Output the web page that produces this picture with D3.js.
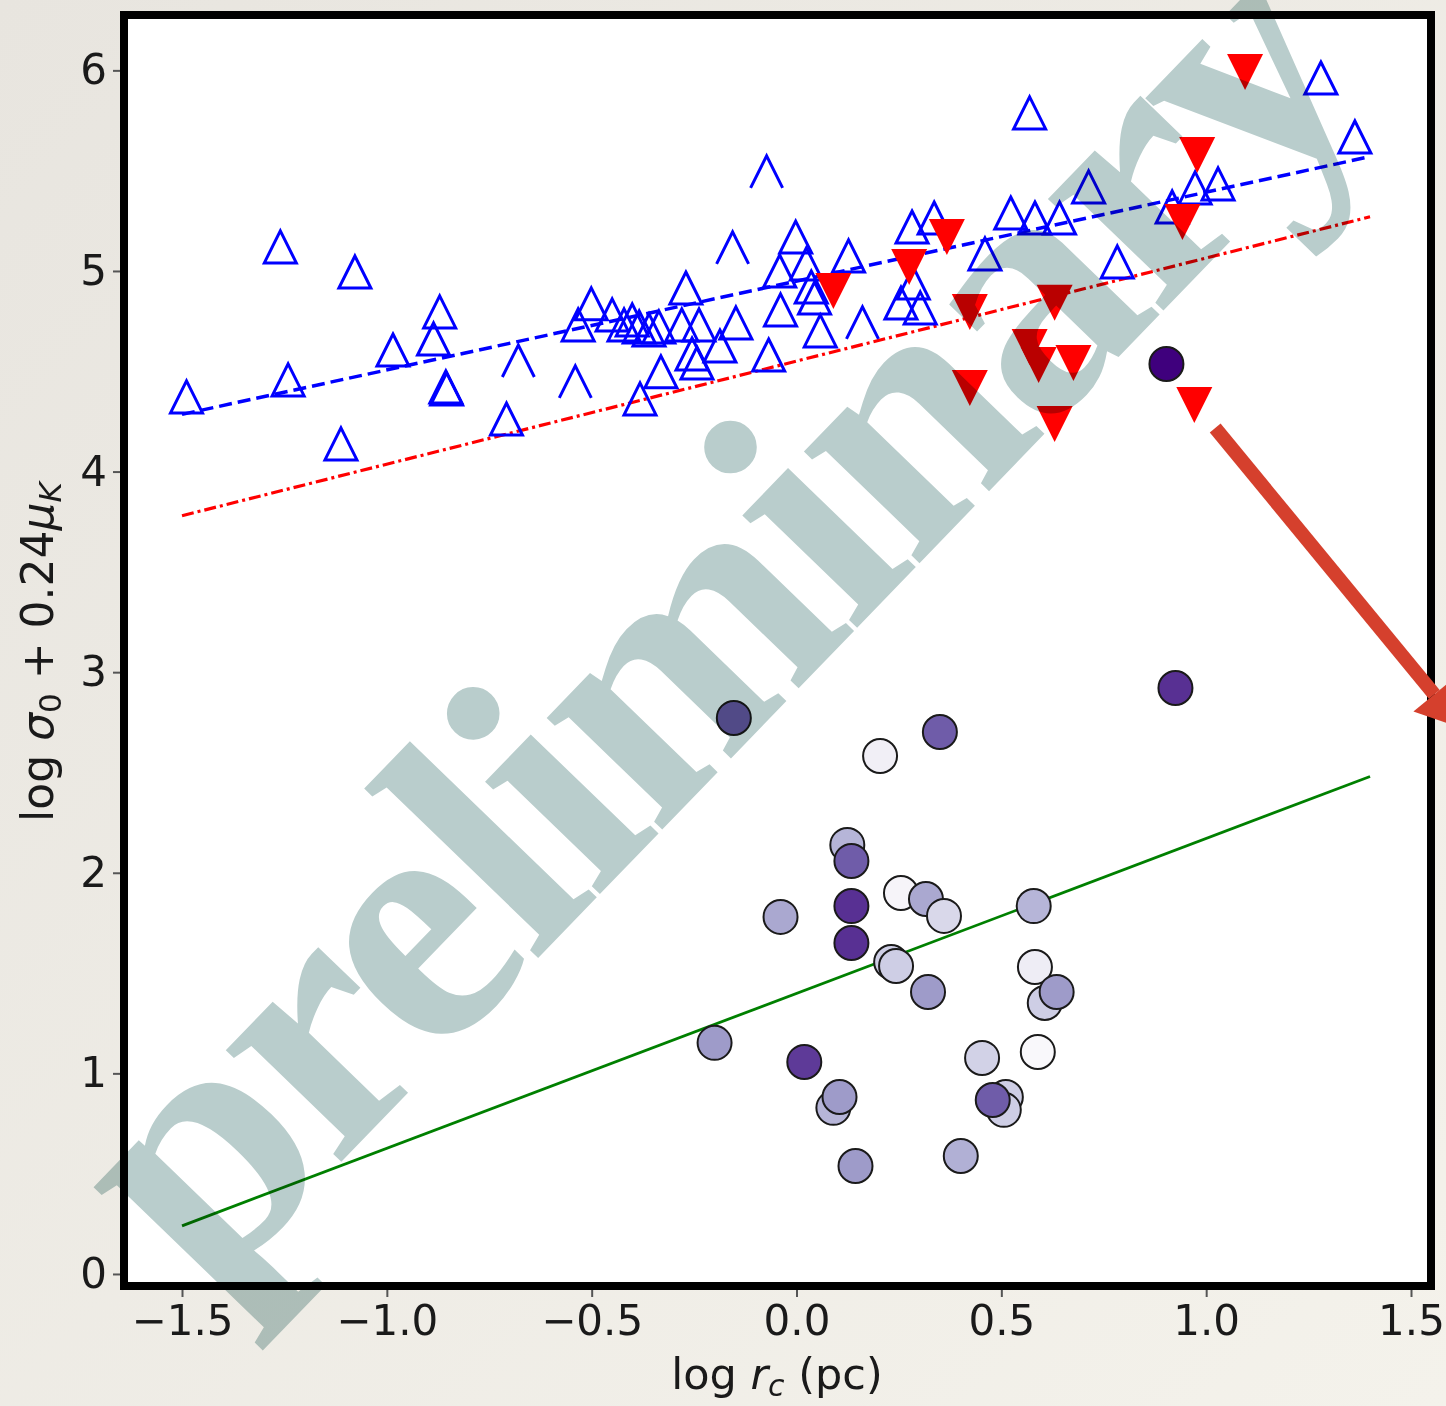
<!DOCTYPE html>
<html>
<head>
<meta charset="utf-8">
<script src="https://cdn.jsdelivr.net/npm/d3@7"></script>
<style>
  body { margin: 0; background: #efece5; }
  svg { display: block; }
</style>
</head>
<body>
<svg id="chart" width="1446" height="1406"></svg>
<script>
// ---- data ----
const xTicks = [-1.5, -1.0, -0.5, 0.0, 0.5, 1.0, 1.5];
const yTicks = [0, 1, 2, 3, 4, 5, 6];

// open triangles (blue)
const blueX = [-1.489, -1.260, -1.078, -1.241, -1.112, -0.985, -0.871, -0.886, -0.856, -0.854,
  -0.708, -0.533, -0.501, -0.450, -0.421, -0.401, -0.384, -0.360, -0.382, -0.336,
  -0.331, -0.270, -0.280, -0.238, -0.255, -0.243, -0.187, -0.148, -0.068, -0.002,
  -0.041, 0.024, 0.036, 0.044, -0.039, 0.058, 0.127, 0.255, 0.302, 0.282,
  0.336, 0.460, 0.523, 0.582, 0.642, 0.569, 0.713, 0.783, 0.917, 0.973,
  1.029, 1.280, 1.363, 0.285];
const blueY = [4.372, 5.120, 4.995, 4.457, 4.138, 4.606, 4.796, 4.661, 4.422, 4.412,
  4.262, 4.731, 4.836, 4.781, 4.731, 4.756, 4.721, 4.706, 4.362, 4.721,
  4.497, 4.915, 4.731, 4.731, 4.586, 4.541, 4.626, 4.741, 4.581, 5.169,
  5.000, 5.035, 4.920, 4.865, 4.806, 4.701, 5.075, 4.840, 4.816, 5.219,
  5.264, 5.085, 5.289, 5.264, 5.264, 5.788, 5.419, 5.045, 5.319, 5.414,
  5.434, 5.962, 5.668, 4.940];
// triangles whose base was lost in the original raster
const blueOpenX = [-0.679, -0.540, -0.156, -0.073, 0.161];
const blueOpenY = [4.551, 4.447, 5.115, 5.494, 4.741];

// filled down triangles (red)
const redX = [0.090, 0.275, 0.367, 0.423, 0.630, 0.569, 0.591, 0.676, 0.423, 0.630, 0.971, 0.978, 0.942, 1.095];
const redY = [4.900, 5.020, 5.169, 4.796, 4.841, 4.621, 4.531, 4.541, 4.417, 4.237, 4.332, 5.578, 5.244, 5.992];

// circles, shade = position on Purples colormap
const circX = [-0.153, 0.350, 0.204, 0.925, 0.903, 0.124, 0.134, -0.039, 0.134, 0.134,
  0.255, 0.316, 0.360, 0.231, 0.243, 0.321, 0.579, 0.582, 0.606, 0.635,
  0.589, 0.453, -0.200, 0.019, 0.090, 0.105, 0.511, 0.506, 0.479, 0.144, 0.401];
const circY = [2.772, 2.702, 2.582, 2.921, 4.536, 2.139, 2.059, 1.780, 1.834, 1.650,
  1.899, 1.869, 1.785, 1.555, 1.535, 1.406, 1.834, 1.530, 1.351, 1.406,
  1.107, 1.077, 1.152, 1.057, 0.828, 0.882, 0.882, 0.818, 0.867, 0.538, 0.588];
const circShade = [0.72, 0.72, 0.10, 0.85, 1.00, 0.40, 0.72, 0.45, 0.85, 0.85,
  0.06, 0.45, 0.25, 0.30, 0.30, 0.50, 0.40, 0.12, 0.30, 0.50,
  0.03, 0.28, 0.50, 0.82, 0.40, 0.50, 0.30, 0.30, 0.72, 0.50, 0.42];

// fitted relations
const fitX = [-1.5, 1.4];
const blueFitY = [4.285, 5.57];
const redFitY = [3.78, 5.27];
const greenFitY = [0.24, 2.48];

// annotation arrow (data coords)
const arrowFrom = [1.022, 4.217];
const arrowTo = [1.625, 2.72];

// ---- layout ----
const svg = d3.select("#chart");
const W = 1446, H = 1406;
const mLeft = 124, mRight = 1431, mTop = 15, mBottom = 1286;

const x = d3.scaleLinear().domain([-1.6416, 1.5488]).range([mLeft, mRight]);
const y = d3.scaleLinear().domain([-0.06, 6.276]).range([mBottom, mTop]);

// paper background
const defs = svg.append("defs");
const bg = defs.append("linearGradient").attr("id", "paper")
  .attr("x1", 0).attr("y1", 0).attr("x2", 1).attr("y2", 1);
bg.append("stop").attr("offset", 0).attr("stop-color", "#e8e5df");
bg.append("stop").attr("offset", 1).attr("stop-color", "#f4f2eb");
svg.append("rect").attr("width", W).attr("height", H).attr("fill", "url(#paper)");

svg.append("rect")
  .attr("x", mLeft).attr("y", mTop)
  .attr("width", mRight - mLeft).attr("height", mBottom - mTop)
  .attr("fill", "#fff");

const plot = svg.append("g");

// fit lines
const line = d3.line().x(d => x(d[0])).y(d => y(d[1]));
plot.append("path")
  .attr("d", line(d3.zip(fitX, greenFitY)))
  .attr("fill", "none").attr("stroke", "#008000").attr("stroke-width", 2.8);
plot.append("path")
  .attr("d", line(d3.zip(fitX, blueFitY)))
  .attr("fill", "none").attr("stroke", "#0000ff").attr("stroke-width", 3.5)
  .attr("stroke-dasharray", "13,6");
plot.append("path")
  .attr("d", line(d3.zip(fitX, redFitY)))
  .attr("fill", "none").attr("stroke", "#ff0000").attr("stroke-width", 3.2)
  .attr("stroke-dasharray", "12,4,3,4");

// blue open triangles
const s = 16;
plot.selectAll(".tri").data(d3.zip(blueX, blueY)).join("path")
  .attr("class", "tri")
  .attr("transform", d => `translate(${x(d[0])},${y(d[1])})`)
  .attr("d", `M0,${-s}L${s},${s}L${-s},${s}Z`)
  .attr("fill", "none").attr("stroke", "#0000ff").attr("stroke-width", 3);
plot.selectAll(".peak").data(d3.zip(blueOpenX, blueOpenY)).join("path")
  .attr("class", "peak")
  .attr("transform", d => `translate(${x(d[0])},${y(d[1])})`)
  .attr("d", `M${-s},${s}L0,${-s}L${s},${s}`)
  .attr("fill", "none").attr("stroke", "#0000ff").attr("stroke-width", 3);

// red filled down triangles
const r = 18;
plot.selectAll(".down").data(d3.zip(redX, redY)).join("path")
  .attr("class", "down")
  .attr("transform", d => `translate(${x(d[0])},${y(d[1])})`)
  .attr("d", `M${-r},${-r}L${r},${-r}L0,${r}Z`)
  .attr("fill", "#ff0000");

// purple circles
plot.selectAll(".dot").data(d3.zip(circX, circY, circShade)).join("circle")
  .attr("class", "dot")
  .attr("cx", d => x(d[0])).attr("cy", d => y(d[1]))
  .attr("r", 17)
  .attr("fill", d => d3.interpolatePurples(d[2]))
  .attr("stroke", "#1a1a1a").attr("stroke-width", 2);

// frame
svg.append("rect")
  .attr("x", mLeft).attr("y", mTop)
  .attr("width", mRight - mLeft).attr("height", mBottom - mTop)
  .attr("fill", "none").attr("stroke", "#000").attr("stroke-width", 8);

// axes
const xAxis = svg.append("g")
  .attr("transform", `translate(0,${mBottom + 4})`)
  .call(d3.axisBottom(x).tickValues(xTicks).tickSize(7).tickPadding(8).tickFormat(d3.format(".1f")));
const yAxis = svg.append("g")
  .attr("transform", `translate(${mLeft - 4},0)`)
  .call(d3.axisLeft(y).tickValues(yTicks).tickSize(7).tickPadding(6).tickFormat(d3.format("d")));

[xAxis, yAxis].forEach(g => {
  g.select(".domain").remove();
  g.selectAll(".tick line").attr("stroke", "#555").attr("stroke-width", 2);
  g.selectAll(".tick text")
    .attr("fill", "#1a1a1a")
    .attr("font-family", "DejaVu Sans")
    .attr("font-size", 42);
});

// axis titles
const xt = svg.append("text")
  .attr("x", 777).attr("y", 1389)
  .attr("text-anchor", "middle")
  .attr("font-family", "DejaVu Sans").attr("font-size", 43).attr("fill", "#1a1a1a");
xt.append("tspan").text("log ");
xt.append("tspan").attr("font-style", "italic").text("r");
xt.append("tspan").attr("font-style", "italic").attr("font-size", 30).attr("dy", 7).text("c");
xt.append("tspan").attr("dy", -7).text(" (pc)");

const yt = svg.append("text")
  .attr("transform", "translate(53,652) rotate(-90)")
  .attr("text-anchor", "middle")
  .attr("font-family", "DejaVu Sans").attr("font-size", 44).attr("fill", "#1a1a1a");
yt.append("tspan").text("log ");
yt.append("tspan").attr("font-style", "italic").text("σ");
yt.append("tspan").attr("font-size", 31).attr("dy", 8).text("0");
yt.append("tspan").attr("dy", -8).text(" + 0.24");
yt.append("tspan").attr("font-style", "italic").text("μ");
yt.append("tspan").attr("font-style", "italic").attr("font-size", 31).attr("dy", 8).text("K");

// watermark
svg.append("text")
  .attr("transform", "translate(206,1302) rotate(-46)")
  .attr("font-family", "Liberation Serif")
  .attr("font-weight", "bold")
  .attr("font-size", 350)
  .attr("textLength", 1690)
  .attr("lengthAdjust", "spacing")
  .attr("fill", "#b9cdcc")
  .style("mix-blend-mode", "multiply")
  .text("preliminary");

// arrow
const ax0 = x(arrowFrom[0]), ay0 = y(arrowFrom[1]);
const ax1 = x(arrowTo[0]), ay1 = y(arrowTo[1]);
const ang = Math.atan2(ay1 - ay0, ax1 - ax0);
const headLen = 44, headW = 27;
const bx = ax1 - headLen * Math.cos(ang), by = ay1 - headLen * Math.sin(ang);
svg.append("line")
  .attr("x1", ax0).attr("y1", ay0).attr("x2", bx).attr("y2", by)
  .attr("stroke", "#d5402d").attr("stroke-width", 14);
svg.append("path")
  .attr("d", `M${ax1},${ay1}L${bx - headW * Math.sin(ang)},${by + headW * Math.cos(ang)}L${bx + headW * Math.sin(ang)},${by - headW * Math.cos(ang)}Z`)
  .attr("fill", "#d5402d");
</script>
</body>
</html>
